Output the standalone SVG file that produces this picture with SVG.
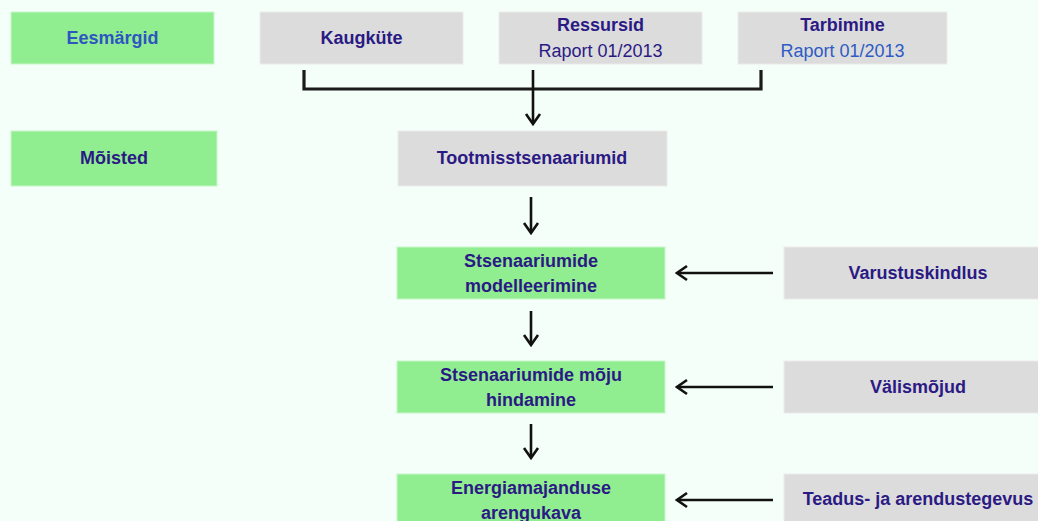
<svg xmlns="http://www.w3.org/2000/svg" width="1038" height="521" viewBox="0 0 1038 521">
<defs>
<style>
.g{fill:#90EE90;stroke:#c8f5c8;stroke-width:1}
.s{fill:#DCDCDC;stroke:#ebebeb;stroke-width:1}
text{font-family:"Liberation Sans",Arial,sans-serif;font-size:18px;text-anchor:middle}
.b{font-weight:bold;fill:#2B1A84}
.r{fill:#2B1A84}
.bl{font-weight:bold;fill:#2E55C0}
.rl{fill:#2E5BC4}
.c{fill:none;stroke:#111;stroke-width:2.6}
.br{fill:none;stroke:#1a1a1a;stroke-width:3.2;stroke-linejoin:miter}
</style>
<marker id="ah" viewBox="-12 -9 14 18" markerWidth="14" markerHeight="18" refX="0" refY="0" orient="auto" markerUnits="userSpaceOnUse">
<path d="M-10,-7 L0,0 L-10,7" fill="none" stroke="#111" stroke-width="2.6"/>
</marker>
</defs>
<rect width="1038" height="521" fill="#F5FFFA"/>

<g id="eesmargid"><rect class="g" x="11" y="12" width="203" height="52"/><text class="bl" x="112.5" y="44">Eesmärgid</text></g>
<g id="kaugkute"><rect class="s" x="260" y="12" width="203" height="52"/><text class="b" x="361.5" y="44">Kaugküte</text></g>
<g id="ressursid"><rect class="s" x="499" y="12" width="203" height="52"/><text class="b" x="600.5" y="31">Ressursid</text><text class="r" x="600.5" y="57">Raport 01/2013</text></g>
<g id="tarbimine"><rect class="s" x="738" y="12" width="209" height="52"/><text class="b" x="842.5" y="31">Tarbimine</text><text class="rl" x="842.5" y="57">Raport 01/2013</text></g>

<g id="moisted"><rect class="g" x="11" y="131" width="206" height="55"/><text class="b" x="114" y="164">Mõisted</text></g>
<g id="tootmisstsenaariumid"><rect class="s" x="398" y="131" width="269" height="55"/><text class="b" x="532" y="164">Tootmisstsenaariumid</text></g>

<g id="modelleerimine"><rect class="g" x="397" y="247" width="268" height="52"/><text class="b" x="531" y="267">Stsenaariumide</text><text class="b" x="531" y="292">modelleerimine</text></g>
<g id="moju"><rect class="g" x="397" y="361" width="268" height="52"/><text class="b" x="531" y="381">Stsenaariumide mõju</text><text class="b" x="531" y="406">hindamine</text></g>
<g id="arengukava"><rect class="g" x="397" y="474" width="268" height="60"/><text class="b" x="531" y="494">Energiamajanduse</text><text class="b" x="531" y="519">arengukava</text></g>

<g id="varustuskindlus"><rect class="s" x="784" y="247" width="268" height="52"/><text class="b" x="918" y="279">Varustuskindlus</text></g>
<g id="valismojud"><rect class="s" x="784" y="361" width="268" height="52"/><text class="b" x="918" y="393">Välismõjud</text></g>
<g id="teadus"><rect class="s" x="784" y="474" width="268" height="64"/><text class="b" x="918" y="505">Teadus- ja arendustegevus</text></g>

<g id="connectors">
<path class="br" d="M304,70 V89 H761 V70"/>
<path class="c" d="M533,70 V124" marker-end="url(#ah)"/>
<path class="c" d="M531,197 V233" marker-end="url(#ah)"/>
<path class="c" d="M531,311 V345" marker-end="url(#ah)"/>
<path class="c" d="M531,424 V458" marker-end="url(#ah)"/>
<path class="c" d="M773,273 H677" marker-end="url(#ah)"/>
<path class="c" d="M773,387 H677" marker-end="url(#ah)"/>
<path class="c" d="M773,500 H677" marker-end="url(#ah)"/>
</g>
</svg>
